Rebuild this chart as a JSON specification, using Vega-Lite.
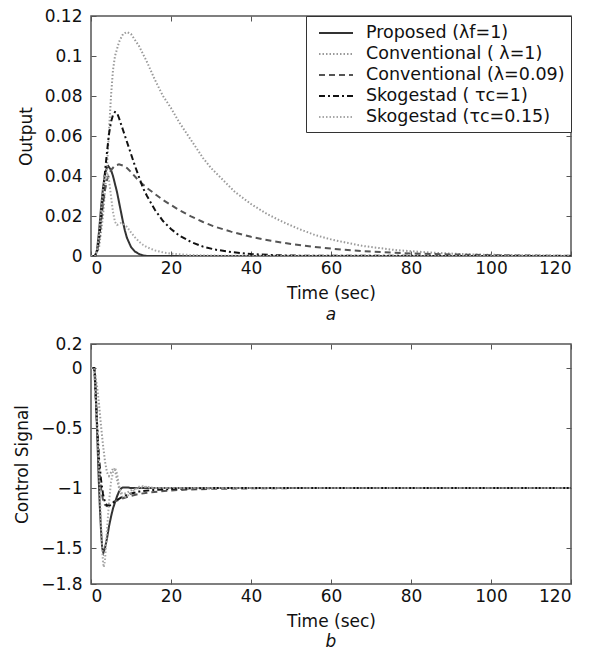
{
  "$schema": "https://vega.github.io/schema/vega-lite/v6.json",
  "padding": {"left": 12, "top": 6, "right": 5, "bottom": 2},
  "config": {
    "font": "DejaVu Sans",
    "view": {"stroke": "#555555", "strokeWidth": 1.5},
    "axis": {"domain": false, "grid": false, "tickSize": -5, "tickColor": "#555555", "tickWidth": 1, "labelFontSize": 17, "labelColor": "#111111", "titleFontSize": 17, "titleFontWeight": "normal", "titleColor": "#111111"},
    "axisX": {"labelPadding": 9, "titlePadding": 9},
    "axisY": {"labelPadding": 14, "titlePadding": 9},
    "legend": {"orient": "top-right", "offset": 0, "strokeColor": "#333333", "fillColor": "white", "padding": 6, "symbolType": "M-0.4,0H3", "symbolSize": 400, "symbolStrokeWidth": 2, "symbolFillColor": "transparent", "labelFontSize": 17.5, "labelColor": "#111111", "labelOffset": 32, "rowPadding": 1, "labelLimit": 400}
  },
  "spacing": 10,
  "datasets": {
    "out": [
      {"s":"Proposed (λf=1)","t":0,"v":0},{"s":"Proposed (λf=1)","t":1,"v":0},{"s":"Proposed (λf=1)","t":1.5,"v":0.003},{"s":"Proposed (λf=1)","t":2,"v":0.012},{"s":"Proposed (λf=1)","t":2.5,"v":0.024},{"s":"Proposed (λf=1)","t":3,"v":0.034},{"s":"Proposed (λf=1)","t":3.5,"v":0.041},{"s":"Proposed (λf=1)","t":4,"v":0.0445},{"s":"Proposed (λf=1)","t":4.3,"v":0.045},{"s":"Proposed (λf=1)","t":5,"v":0.043},{"s":"Proposed (λf=1)","t":5.5,"v":0.04},{"s":"Proposed (λf=1)","t":6,"v":0.036},{"s":"Proposed (λf=1)","t":6.5,"v":0.032},{"s":"Proposed (λf=1)","t":7,"v":0.027},{"s":"Proposed (λf=1)","t":8,"v":0.017},{"s":"Proposed (λf=1)","t":8.5,"v":0.0125},{"s":"Proposed (λf=1)","t":9,"v":0.009},{"s":"Proposed (λf=1)","t":10,"v":0.0045},{"s":"Proposed (λf=1)","t":11,"v":0.0022},{"s":"Proposed (λf=1)","t":12,"v":0.001},{"s":"Proposed (λf=1)","t":13,"v":0.0003},{"s":"Proposed (λf=1)","t":14,"v":0},{"s":"Proposed (λf=1)","t":120,"v":0},
      {"s":"Conventional ( λ=1)","t":0,"v":0},{"s":"Conventional ( λ=1)","t":1,"v":0},{"s":"Conventional ( λ=1)","t":2,"v":0.004},{"s":"Conventional ( λ=1)","t":3,"v":0.02},{"s":"Conventional ( λ=1)","t":4,"v":0.045},{"s":"Conventional ( λ=1)","t":5,"v":0.08},{"s":"Conventional ( λ=1)","t":5.5,"v":0.093},{"s":"Conventional ( λ=1)","t":6,"v":0.1},{"s":"Conventional ( λ=1)","t":7,"v":0.107},{"s":"Conventional ( λ=1)","t":8,"v":0.111},{"s":"Conventional ( λ=1)","t":9,"v":0.112},{"s":"Conventional ( λ=1)","t":10,"v":0.111},{"s":"Conventional ( λ=1)","t":12,"v":0.105},{"s":"Conventional ( λ=1)","t":14,"v":0.097},{"s":"Conventional ( λ=1)","t":16,"v":0.088},{"s":"Conventional ( λ=1)","t":18,"v":0.08},{"s":"Conventional ( λ=1)","t":20,"v":0.074},{"s":"Conventional ( λ=1)","t":22,"v":0.067},{"s":"Conventional ( λ=1)","t":24,"v":0.061},{"s":"Conventional ( λ=1)","t":26,"v":0.055},{"s":"Conventional ( λ=1)","t":28,"v":0.049},{"s":"Conventional ( λ=1)","t":30,"v":0.044},{"s":"Conventional ( λ=1)","t":33,"v":0.038},{"s":"Conventional ( λ=1)","t":36,"v":0.032},{"s":"Conventional ( λ=1)","t":40,"v":0.026},{"s":"Conventional ( λ=1)","t":44,"v":0.021},{"s":"Conventional ( λ=1)","t":48,"v":0.017},{"s":"Conventional ( λ=1)","t":52,"v":0.0135},{"s":"Conventional ( λ=1)","t":56,"v":0.0105},{"s":"Conventional ( λ=1)","t":60,"v":0.0083},{"s":"Conventional ( λ=1)","t":64,"v":0.0066},{"s":"Conventional ( λ=1)","t":68,"v":0.005},{"s":"Conventional ( λ=1)","t":72,"v":0.004},{"s":"Conventional ( λ=1)","t":76,"v":0.003},{"s":"Conventional ( λ=1)","t":80,"v":0.0024},{"s":"Conventional ( λ=1)","t":85,"v":0.0017},{"s":"Conventional ( λ=1)","t":90,"v":0.0012},{"s":"Conventional ( λ=1)","t":95,"v":0.0008},{"s":"Conventional ( λ=1)","t":100,"v":0.0006},{"s":"Conventional ( λ=1)","t":110,"v":0.0003},{"s":"Conventional ( λ=1)","t":120,"v":0.0001},
      {"s":"Conventional (λ=0.09)","t":0,"v":0},{"s":"Conventional (λ=0.09)","t":1,"v":0},{"s":"Conventional (λ=0.09)","t":1.5,"v":0.002},{"s":"Conventional (λ=0.09)","t":2,"v":0.008},{"s":"Conventional (λ=0.09)","t":2.5,"v":0.017},{"s":"Conventional (λ=0.09)","t":3,"v":0.026},{"s":"Conventional (λ=0.09)","t":3.5,"v":0.033},{"s":"Conventional (λ=0.09)","t":4,"v":0.038},{"s":"Conventional (λ=0.09)","t":5,"v":0.043},{"s":"Conventional (λ=0.09)","t":6,"v":0.0452},{"s":"Conventional (λ=0.09)","t":7,"v":0.0458},{"s":"Conventional (λ=0.09)","t":8,"v":0.0452},{"s":"Conventional (λ=0.09)","t":9,"v":0.044},{"s":"Conventional (λ=0.09)","t":10,"v":0.042},{"s":"Conventional (λ=0.09)","t":12,"v":0.0375},{"s":"Conventional (λ=0.09)","t":14,"v":0.034},{"s":"Conventional (λ=0.09)","t":16,"v":0.031},{"s":"Conventional (λ=0.09)","t":18,"v":0.028},{"s":"Conventional (λ=0.09)","t":20,"v":0.0255},{"s":"Conventional (λ=0.09)","t":22,"v":0.023},{"s":"Conventional (λ=0.09)","t":25,"v":0.0198},{"s":"Conventional (λ=0.09)","t":28,"v":0.017},{"s":"Conventional (λ=0.09)","t":31,"v":0.0146},{"s":"Conventional (λ=0.09)","t":35,"v":0.0122},{"s":"Conventional (λ=0.09)","t":40,"v":0.0096},{"s":"Conventional (λ=0.09)","t":45,"v":0.0076},{"s":"Conventional (λ=0.09)","t":50,"v":0.006},{"s":"Conventional (λ=0.09)","t":55,"v":0.0047},{"s":"Conventional (λ=0.09)","t":60,"v":0.0037},{"s":"Conventional (λ=0.09)","t":65,"v":0.0029},{"s":"Conventional (λ=0.09)","t":70,"v":0.0022},{"s":"Conventional (λ=0.09)","t":75,"v":0.0017},{"s":"Conventional (λ=0.09)","t":80,"v":0.0013},{"s":"Conventional (λ=0.09)","t":90,"v":0.0008},{"s":"Conventional (λ=0.09)","t":100,"v":0.0004},{"s":"Conventional (λ=0.09)","t":110,"v":0.0002},{"s":"Conventional (λ=0.09)","t":120,"v":0.0001},
      {"s":"Skogestad ( τc=1)","t":0,"v":0},{"s":"Skogestad ( τc=1)","t":1,"v":0},{"s":"Skogestad ( τc=1)","t":1.5,"v":0.002},{"s":"Skogestad ( τc=1)","t":2,"v":0.008},{"s":"Skogestad ( τc=1)","t":2.5,"v":0.018},{"s":"Skogestad ( τc=1)","t":3,"v":0.03},{"s":"Skogestad ( τc=1)","t":3.5,"v":0.042},{"s":"Skogestad ( τc=1)","t":4,"v":0.052},{"s":"Skogestad ( τc=1)","t":4.5,"v":0.061},{"s":"Skogestad ( τc=1)","t":5,"v":0.067},{"s":"Skogestad ( τc=1)","t":5.5,"v":0.0705},{"s":"Skogestad ( τc=1)","t":6,"v":0.072},{"s":"Skogestad ( τc=1)","t":6.5,"v":0.0715},{"s":"Skogestad ( τc=1)","t":7,"v":0.069},{"s":"Skogestad ( τc=1)","t":8,"v":0.063},{"s":"Skogestad ( τc=1)","t":9,"v":0.057},{"s":"Skogestad ( τc=1)","t":10,"v":0.051},{"s":"Skogestad ( τc=1)","t":11,"v":0.045},{"s":"Skogestad ( τc=1)","t":12,"v":0.0395},{"s":"Skogestad ( τc=1)","t":13,"v":0.034},{"s":"Skogestad ( τc=1)","t":14,"v":0.03},{"s":"Skogestad ( τc=1)","t":16,"v":0.023},{"s":"Skogestad ( τc=1)","t":18,"v":0.0175},{"s":"Skogestad ( τc=1)","t":20,"v":0.0135},{"s":"Skogestad ( τc=1)","t":22,"v":0.0103},{"s":"Skogestad ( τc=1)","t":25,"v":0.007},{"s":"Skogestad ( τc=1)","t":28,"v":0.0047},{"s":"Skogestad ( τc=1)","t":31,"v":0.0032},{"s":"Skogestad ( τc=1)","t":35,"v":0.002},{"s":"Skogestad ( τc=1)","t":40,"v":0.001},{"s":"Skogestad ( τc=1)","t":45,"v":0.0005},{"s":"Skogestad ( τc=1)","t":50,"v":0.0002},{"s":"Skogestad ( τc=1)","t":60,"v":0.0001},{"s":"Skogestad ( τc=1)","t":120,"v":0},
      {"s":"Skogestad (τc=0.15)","t":0,"v":0},{"s":"Skogestad (τc=0.15)","t":1,"v":0},{"s":"Skogestad (τc=0.15)","t":1.5,"v":0.003},{"s":"Skogestad (τc=0.15)","t":2,"v":0.01},{"s":"Skogestad (τc=0.15)","t":2.5,"v":0.022},{"s":"Skogestad (τc=0.15)","t":3,"v":0.033},{"s":"Skogestad (τc=0.15)","t":3.5,"v":0.04},{"s":"Skogestad (τc=0.15)","t":4,"v":0.042},{"s":"Skogestad (τc=0.15)","t":4.5,"v":0.038},{"s":"Skogestad (τc=0.15)","t":5,"v":0.03},{"s":"Skogestad (τc=0.15)","t":5.5,"v":0.022},{"s":"Skogestad (τc=0.15)","t":6,"v":0.017},{"s":"Skogestad (τc=0.15)","t":6.5,"v":0.0155},{"s":"Skogestad (τc=0.15)","t":7,"v":0.016},{"s":"Skogestad (τc=0.15)","t":7.5,"v":0.0165},{"s":"Skogestad (τc=0.15)","t":8,"v":0.0163},{"s":"Skogestad (τc=0.15)","t":9,"v":0.0145},{"s":"Skogestad (τc=0.15)","t":10,"v":0.0118},{"s":"Skogestad (τc=0.15)","t":11,"v":0.0093},{"s":"Skogestad (τc=0.15)","t":12,"v":0.0072},{"s":"Skogestad (τc=0.15)","t":13,"v":0.0056},{"s":"Skogestad (τc=0.15)","t":14,"v":0.0044},{"s":"Skogestad (τc=0.15)","t":16,"v":0.0028},{"s":"Skogestad (τc=0.15)","t":18,"v":0.0018},{"s":"Skogestad (τc=0.15)","t":20,"v":0.0012},{"s":"Skogestad (τc=0.15)","t":25,"v":0.0005},{"s":"Skogestad (τc=0.15)","t":30,"v":0.0002},{"s":"Skogestad (τc=0.15)","t":40,"v":0.0001},{"s":"Skogestad (τc=0.15)","t":120,"v":0}
    ],
    "ctl": [
      {"s":"Proposed (λf=1)","t":0,"v":0},{"s":"Proposed (λf=1)","t":0.8,"v":0},{"s":"Proposed (λf=1)","t":1,"v":-0.05},{"s":"Proposed (λf=1)","t":1.3,"v":-0.3},{"s":"Proposed (λf=1)","t":1.6,"v":-0.6},{"s":"Proposed (λf=1)","t":1.9,"v":-0.9},{"s":"Proposed (λf=1)","t":2.2,"v":-1.15},{"s":"Proposed (λf=1)","t":2.5,"v":-1.35},{"s":"Proposed (λf=1)","t":2.8,"v":-1.5},{"s":"Proposed (λf=1)","t":3.1,"v":-1.54},{"s":"Proposed (λf=1)","t":3.5,"v":-1.5},{"s":"Proposed (λf=1)","t":4,"v":-1.42},{"s":"Proposed (λf=1)","t":4.5,"v":-1.32},{"s":"Proposed (λf=1)","t":5,"v":-1.24},{"s":"Proposed (λf=1)","t":5.5,"v":-1.17},{"s":"Proposed (λf=1)","t":6,"v":-1.12},{"s":"Proposed (λf=1)","t":6.5,"v":-1.07},{"s":"Proposed (λf=1)","t":7,"v":-1.03},{"s":"Proposed (λf=1)","t":7.5,"v":-1.005},{"s":"Proposed (λf=1)","t":8,"v":-0.995},{"s":"Proposed (λf=1)","t":9,"v":-0.995},{"s":"Proposed (λf=1)","t":10,"v":-1},{"s":"Proposed (λf=1)","t":120,"v":-1},
      {"s":"Conventional ( λ=1)","t":0,"v":0},{"s":"Conventional ( λ=1)","t":0.8,"v":0},{"s":"Conventional ( λ=1)","t":1.5,"v":-0.15},{"s":"Conventional ( λ=1)","t":2,"v":-0.3},{"s":"Conventional ( λ=1)","t":2.5,"v":-0.48},{"s":"Conventional ( λ=1)","t":3,"v":-0.64},{"s":"Conventional ( λ=1)","t":3.5,"v":-0.78},{"s":"Conventional ( λ=1)","t":4,"v":-0.87},{"s":"Conventional ( λ=1)","t":4.5,"v":-0.9},{"s":"Conventional ( λ=1)","t":5,"v":-0.87},{"s":"Conventional ( λ=1)","t":5.5,"v":-0.84},{"s":"Conventional ( λ=1)","t":6,"v":-0.85},{"s":"Conventional ( λ=1)","t":6.5,"v":-0.93},{"s":"Conventional ( λ=1)","t":7,"v":-1},{"s":"Conventional ( λ=1)","t":7.5,"v":-1.04},{"s":"Conventional ( λ=1)","t":8,"v":-1.05},{"s":"Conventional ( λ=1)","t":9,"v":-1.04},{"s":"Conventional ( λ=1)","t":10,"v":-1.02},{"s":"Conventional ( λ=1)","t":12,"v":-1},{"s":"Conventional ( λ=1)","t":14,"v":-0.99},{"s":"Conventional ( λ=1)","t":16,"v":-1},{"s":"Conventional ( λ=1)","t":120,"v":-1},
      {"s":"Conventional (λ=0.09)","t":0,"v":0},{"s":"Conventional (λ=0.09)","t":0.8,"v":0},{"s":"Conventional (λ=0.09)","t":1,"v":-0.12},{"s":"Conventional (λ=0.09)","t":1.5,"v":-0.5},{"s":"Conventional (λ=0.09)","t":2,"v":-0.82},{"s":"Conventional (λ=0.09)","t":2.5,"v":-1},{"s":"Conventional (λ=0.09)","t":3,"v":-1.1},{"s":"Conventional (λ=0.09)","t":3.5,"v":-1.14},{"s":"Conventional (λ=0.09)","t":4,"v":-1.15},{"s":"Conventional (λ=0.09)","t":5,"v":-1.13},{"s":"Conventional (λ=0.09)","t":6,"v":-1.11},{"s":"Conventional (λ=0.09)","t":8,"v":-1.085},{"s":"Conventional (λ=0.09)","t":10,"v":-1.065},{"s":"Conventional (λ=0.09)","t":12,"v":-1.05},{"s":"Conventional (λ=0.09)","t":15,"v":-1.035},{"s":"Conventional (λ=0.09)","t":20,"v":-1.02},{"s":"Conventional (λ=0.09)","t":25,"v":-1.012},{"s":"Conventional (λ=0.09)","t":30,"v":-1.007},{"s":"Conventional (λ=0.09)","t":40,"v":-1.003},{"s":"Conventional (λ=0.09)","t":50,"v":-1.001},{"s":"Conventional (λ=0.09)","t":60,"v":-1},{"s":"Conventional (λ=0.09)","t":120,"v":-1},
      {"s":"Skogestad ( τc=1)","t":0,"v":0},{"s":"Skogestad ( τc=1)","t":0.8,"v":0},{"s":"Skogestad ( τc=1)","t":1,"v":-0.1},{"s":"Skogestad ( τc=1)","t":1.5,"v":-0.45},{"s":"Skogestad ( τc=1)","t":2,"v":-0.75},{"s":"Skogestad ( τc=1)","t":2.5,"v":-0.93},{"s":"Skogestad ( τc=1)","t":3,"v":-1.05},{"s":"Skogestad ( τc=1)","t":3.5,"v":-1.12},{"s":"Skogestad ( τc=1)","t":4,"v":-1.145},{"s":"Skogestad ( τc=1)","t":4.5,"v":-1.15},{"s":"Skogestad ( τc=1)","t":5,"v":-1.14},{"s":"Skogestad ( τc=1)","t":6,"v":-1.11},{"s":"Skogestad ( τc=1)","t":7,"v":-1.09},{"s":"Skogestad ( τc=1)","t":8,"v":-1.07},{"s":"Skogestad ( τc=1)","t":10,"v":-1.045},{"s":"Skogestad ( τc=1)","t":12,"v":-1.03},{"s":"Skogestad ( τc=1)","t":15,"v":-1.018},{"s":"Skogestad ( τc=1)","t":20,"v":-1.008},{"s":"Skogestad ( τc=1)","t":25,"v":-1.003},{"s":"Skogestad ( τc=1)","t":30,"v":-1.001},{"s":"Skogestad ( τc=1)","t":120,"v":-1},
      {"s":"Skogestad (τc=0.15)","t":0,"v":0},{"s":"Skogestad (τc=0.15)","t":0.8,"v":0},{"s":"Skogestad (τc=0.15)","t":1,"v":-0.1},{"s":"Skogestad (τc=0.15)","t":1.5,"v":-0.45},{"s":"Skogestad (τc=0.15)","t":2,"v":-0.85},{"s":"Skogestad (τc=0.15)","t":2.5,"v":-1.3},{"s":"Skogestad (τc=0.15)","t":3,"v":-1.62},{"s":"Skogestad (τc=0.15)","t":3.2,"v":-1.66},{"s":"Skogestad (τc=0.15)","t":3.5,"v":-1.6},{"s":"Skogestad (τc=0.15)","t":4,"v":-1.35},{"s":"Skogestad (τc=0.15)","t":4.5,"v":-1.12},{"s":"Skogestad (τc=0.15)","t":5,"v":-0.95},{"s":"Skogestad (τc=0.15)","t":5.5,"v":-0.87},{"s":"Skogestad (τc=0.15)","t":6,"v":-0.83},{"s":"Skogestad (τc=0.15)","t":6.5,"v":-0.88},{"s":"Skogestad (τc=0.15)","t":7,"v":-0.98},{"s":"Skogestad (τc=0.15)","t":7.5,"v":-1.05},{"s":"Skogestad (τc=0.15)","t":8,"v":-1.08},{"s":"Skogestad (τc=0.15)","t":9,"v":-1.07},{"s":"Skogestad (τc=0.15)","t":10,"v":-1.04},{"s":"Skogestad (τc=0.15)","t":11,"v":-1.01},{"s":"Skogestad (τc=0.15)","t":12,"v":-0.99},{"s":"Skogestad (τc=0.15)","t":13,"v":-0.985},{"s":"Skogestad (τc=0.15)","t":15,"v":-1},{"s":"Skogestad (τc=0.15)","t":120,"v":-1}
    ]
  },
  "vconcat": [
    {
      "width": 480, "height": 240,
      "title": {"text": "a", "orient": "bottom", "fontStyle": "italic", "fontWeight": "normal", "fontSize": 17, "offset": 6, "color": "#111111"},
      "data": {"name": "out"},
      "layer": [
        {
          "mark": {"type": "line", "strokeWidth": 2, "clip": true},
          "encoding": {
            "x": {"field": "t", "type": "quantitative", "scale": {"domain": [0, 120], "nice": false}, "axis": {"title": "Time (sec)", "values": [0, 20, 40, 60, 80, 100, 120]}},
            "y": {"field": "v", "type": "quantitative", "scale": {"domain": [0, 0.12], "nice": false}, "axis": {"title": "Output", "values": [0, 0.02, 0.04, 0.06, 0.08, 0.1, 0.12], "labelExpr": "format(datum.value, '~g')"}},
            "color": {"field": "s", "type": "nominal", "scale": {"domain": ["Proposed (λf=1)", "Conventional ( λ=1)", "Conventional (λ=0.09)", "Skogestad ( τc=1)", "Skogestad (τc=0.15)"], "range": ["#333333", "#9a9a9a", "#555555", "#111111", "#a8a8a8"]}, "legend": {"title": null}},
            "strokeDash": {"field": "s", "type": "nominal", "scale": {"domain": ["Proposed (λf=1)", "Conventional ( λ=1)", "Conventional (λ=0.09)", "Skogestad ( τc=1)", "Skogestad (τc=0.15)"], "range": [[1, 0], [1.5, 2], [6, 4], [6, 3, 2, 3], [1.5, 2]]}, "legend": {"title": null}}
          }
        },
        {
          "mark": {"type": "point", "opacity": 0},
          "encoding": {
            "x": {"field": "t", "type": "quantitative", "axis": {"orient": "top", "labels": false, "title": null, "values": [0, 20, 40, 60, 80, 100, 120]}},
            "y": {"field": "v", "type": "quantitative", "axis": {"orient": "right", "labels": false, "title": null, "values": [0, 0.02, 0.04, 0.06, 0.08, 0.1, 0.12]}}
          }
        }
      ],
      "resolve": {"axis": {"x": "independent", "y": "independent"}}
    },
    {
      "width": 480, "height": 240,
      "title": {"text": "b", "orient": "bottom", "fontStyle": "italic", "fontWeight": "normal", "fontSize": 17, "offset": 5, "color": "#111111"},
      "data": {"name": "ctl"},
      "layer": [
        {
          "mark": {"type": "line", "strokeWidth": 2, "clip": true},
          "encoding": {
            "x": {"field": "t", "type": "quantitative", "scale": {"domain": [0, 120], "nice": false}, "axis": {"title": "Time (sec)", "values": [0, 20, 40, 60, 80, 100, 120]}},
            "y": {"field": "v", "type": "quantitative", "scale": {"domain": [-1.8, 0.2], "nice": false}, "axis": {"title": "Control Signal", "values": [-1.8, -1.5, -1, -0.5, 0, 0.2], "labelExpr": "format(datum.value, '~g')"}},
            "color": {"field": "s", "type": "nominal", "scale": {"domain": ["Proposed (λf=1)", "Conventional ( λ=1)", "Conventional (λ=0.09)", "Skogestad ( τc=1)", "Skogestad (τc=0.15)"], "range": ["#333333", "#9a9a9a", "#555555", "#111111", "#a8a8a8"]}, "legend": {"title": null}},
            "strokeDash": {"field": "s", "type": "nominal", "scale": {"domain": ["Proposed (λf=1)", "Conventional ( λ=1)", "Conventional (λ=0.09)", "Skogestad ( τc=1)", "Skogestad (τc=0.15)"], "range": [[1, 0], [1.5, 2], [6, 4], [6, 3, 2, 3], [1.5, 2]]}, "legend": {"title": null}}
          }
        },
        {
          "mark": {"type": "point", "opacity": 0},
          "encoding": {
            "x": {"field": "t", "type": "quantitative", "axis": {"orient": "top", "labels": false, "title": null, "values": [0, 20, 40, 60, 80, 100, 120]}},
            "y": {"field": "v", "type": "quantitative", "axis": {"orient": "right", "labels": false, "title": null, "values": [-1.5, -1, -0.5, 0]}}
          }
        }
      ],
      "resolve": {"axis": {"x": "independent", "y": "independent"}}
    }
  ],
  "resolve": {"scale": {"color": "shared", "strokeDash": "shared"}}
}
